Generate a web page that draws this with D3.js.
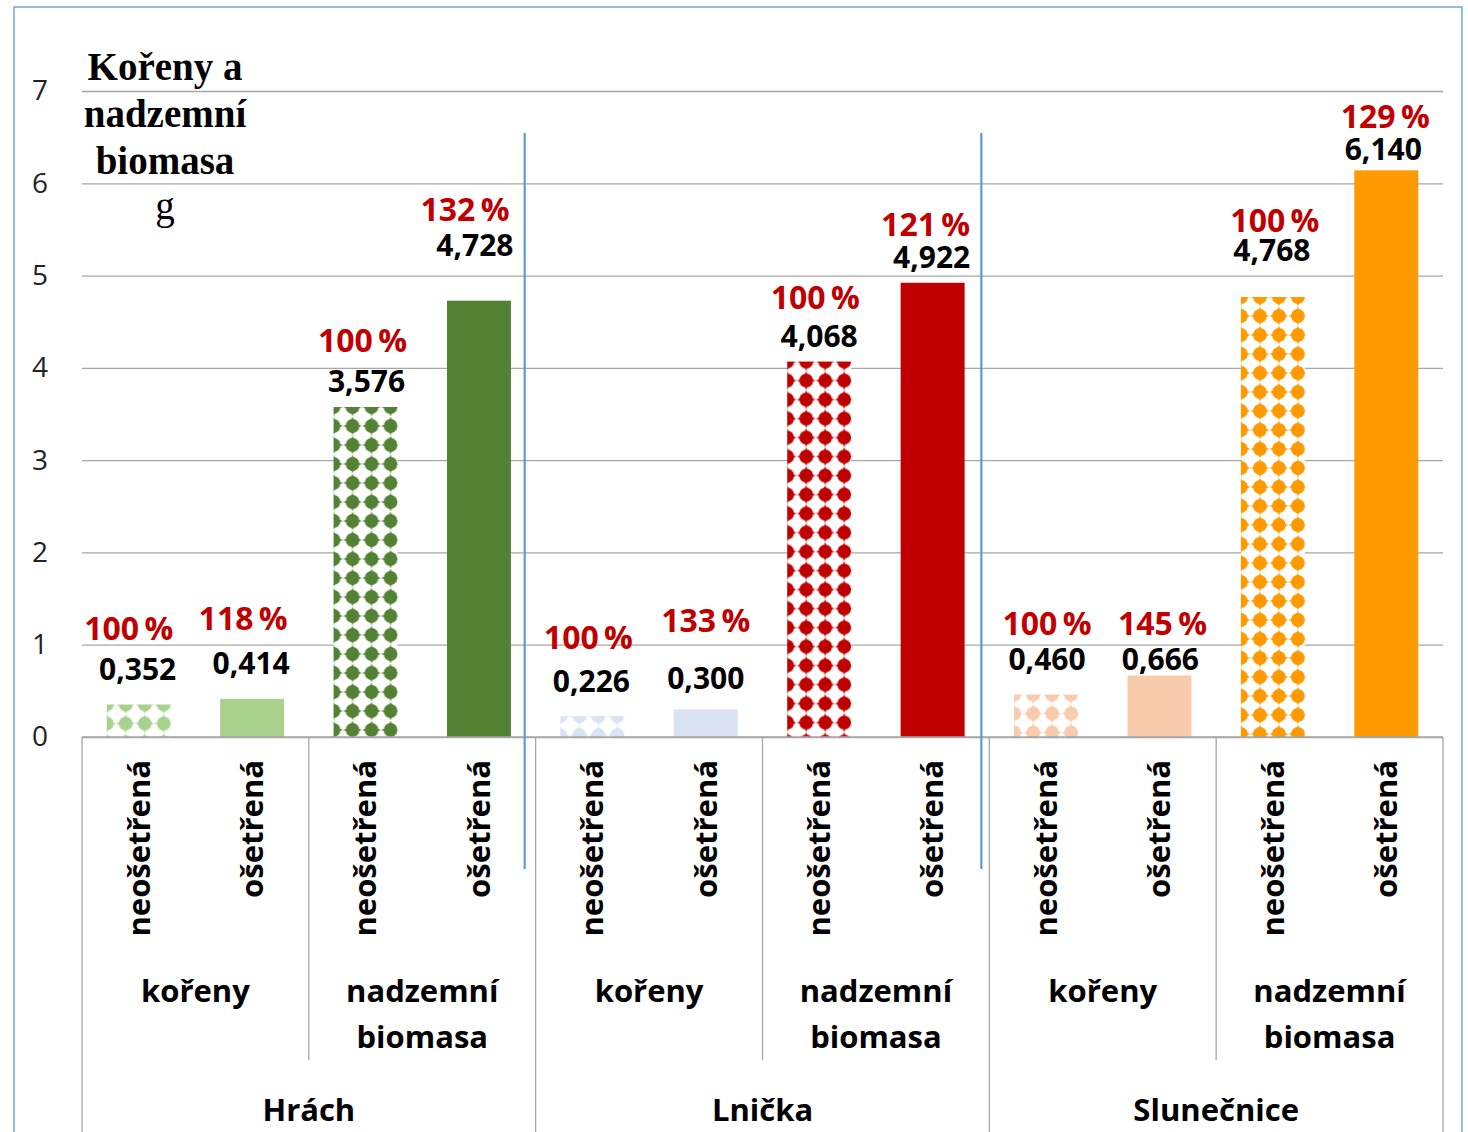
<!DOCTYPE html>
<html><head><meta charset="utf-8">
<script src="https://cdn.jsdelivr.net/npm/d3@7"></script>
<style>
html,body{margin:0;padding:0;background:#fff;}
svg{display:block;}
</style></head>
<body>
<svg id="chart" width="1468" height="1132"></svg>
<script>
// ---- data ----
const species = ["Hrách", "Lnička", "Slunečnice"];
const parts = ["kořeny", "nadzemní biomasa"];
const treatments = ["neošetřená", "ošetřená"];
const values = [0.352, 0.414, 3.576, 4.728, 0.226, 0.300, 4.068, 4.922, 0.460, 0.666, 4.768, 6.140];
const percents = [100, 118, 100, 132, 100, 133, 100, 121, 100, 145, 100, 129];
const yTicks = [0, 1, 2, 3, 4, 5, 6, 7];
const titleLines = ["Kořeny a", "nadzemní", "biomasa"];
const unitLabel = "g";

// ---- style / layout ----
const barColors = ["#A9D18E", "#A9D18E", "#548235", "#548235",
                   "#DAE3F3", "#DAE3F3", "#C00000", "#C00000",
                   "#F8CBAD", "#F8CBAD", "#FF9900", "#FF9900"];
const patterned = [true, false, true, false, true, false, true, false, true, false, true, false];
// manual label placement (px) as in the original
const valueGap = [35, 35, 25, 55, 35, 31, 25, 25, 35, 16, 46, 21];
const pctGap = [41, 45, 41, 36, 43, 58, 39, 33, 36, 36, 30, 33];
const pctDx = [-10, -9, -3, -14, -4, 0, -4, -7, 1, 3, 2, -1];
const valueDx = [-1, -1, 1, -4, -1, 0, 0, -1, 1, 1, -1, -3];
const separatorDx = [-11, -8];

(function () {
const W = 1468, H = 1132;
const mLeft = 82, mRight = 1443, mTop = 91, mBottom = 737;
const svg = d3.select("#chart");
const gridColor = "#A6A6A6";
const sans = "'Open Sans', 'Noto Sans', sans-serif";

// outer frame
svg.append("rect").attr("x", 14).attr("y", 7).attr("width", 1448).attr("height", 1140)
  .attr("fill", "none").attr("stroke", "#6FA8DC").attr("stroke-width", 1.5);

const items = values.map((v, i) => ({
  i, v, p: percents[i],
  sp: species[Math.floor(i / 4)],
  part: parts[Math.floor(i / 2) % 2],
  tr: treatments[i % 2]
}));

const x = d3.scaleBand().domain(d3.range(values.length)).range([mLeft, mRight])
  .paddingInner(0.436).paddingOuter(0.218);
const y = d3.scaleLinear().domain([0, 7]).range([mBottom, mTop]);
const step = x.step();

// gridlines + y labels
const yAxis = d3.axisLeft(y).tickValues(yTicks).tickSize(-(mRight - mLeft)).tickPadding(34).tickFormat(d3.format("d"));
const ga = svg.append("g").attr("transform", `translate(${mLeft},0)`).call(yAxis);
ga.select(".domain").remove();
ga.selectAll(".tick line").attr("stroke", gridColor).attr("stroke-width", 1.3);
ga.selectAll(".tick text").attr("font-family", sans).attr("font-size", 28).attr("fill", "#222");

// patterns: coloured four-pointed blobs on white
const defs = svg.append("defs");
const T = 19, R = 6.9, P = 9.4, Wd = 2.6;
const corners = [[0, 0], [T, 0], [0, T], [T, T]];
items.forEach(d => {
  if (!patterned[d.i]) return;
  const pat = defs.append("pattern").attr("id", "pat" + d.i)
    .attr("patternUnits", "userSpaceOnUse").attr("width", T).attr("height", T)
    .attr("patternTransform", `translate(${x(d.i)},${y(d.v)})`);
  pat.append("rect").attr("width", T).attr("height", T).attr("fill", "#fff");
  corners.forEach(([cx, cy]) => {
    pat.append("circle").attr("cx", cx).attr("cy", cy).attr("r", R).attr("fill", barColors[d.i]);
    pat.append("path")
      .attr("d", `M${cx - P},${cy}L${cx - Wd},${cy - Wd}L${cx},${cy - P}L${cx + Wd},${cy - Wd}` +
                 `L${cx + P},${cy}L${cx + Wd},${cy + Wd}L${cx},${cy + P}L${cx - Wd},${cy + Wd}Z`)
      .attr("fill", barColors[d.i]);
  });
});

// bars
svg.append("g").selectAll("rect").data(items).join("rect")
  .attr("x", d => x(d.i)).attr("width", x.bandwidth())
  .attr("y", d => y(d.v)).attr("height", d => y(0) - y(d.v))
  .attr("fill", d => patterned[d.i] ? `url(#pat${d.i})` : barColors[d.i]);

// x axis baseline and separators
const ax = svg.append("g").attr("stroke", gridColor).attr("stroke-width", 1.3);
ax.append("line").attr("x1", mLeft).attr("x2", mRight).attr("y1", mBottom).attr("y2", mBottom);
for (let k = 0; k <= values.length; k += 2) {
  const xx = mLeft + k * step;
  const full = (k % 4 === 0);
  ax.append("line").attr("x1", xx).attr("x2", xx).attr("y1", mBottom).attr("y2", full ? H + 10 : 1060);
}

// value labels
const fmt = v => d3.format(".3f")(v).replace(".", ",");
svg.append("g").selectAll("text").data(items).join("text")
  .attr("x", d => x(d.i) + x.bandwidth() / 2 + valueDx[d.i])
  .attr("y", d => y(d.v) - valueGap[d.i])
  .attr("dy", "0.35em").attr("text-anchor", "middle")
  .attr("font-family", sans).attr("font-weight", 700).attr("font-size", 30).attr("fill", "#000")
  .text(d => fmt(d.v));
svg.append("g").selectAll("text").data(items).join("text")
  .attr("x", d => x(d.i) + x.bandwidth() / 2 + pctDx[d.i])
  .attr("y", d => y(d.v) - valueGap[d.i] - pctGap[d.i])
  .attr("dy", "0.35em").attr("text-anchor", "middle")
  .attr("font-family", sans).attr("font-weight", 700).attr("font-size", 32).attr("fill", "#C00000")
  .text(d => `${d.p}\u2009%`);

// rotated treatment labels
svg.append("g").selectAll("text").data(items).join("text")
  .attr("transform", d => `translate(${x(d.i) + x.bandwidth() / 2},760) rotate(-90)`)
  .attr("text-anchor", "end").attr("dy", "0.35em")
  .attr("font-family", sans).attr("font-weight", 700).attr("font-size", 31).attr("fill", "#000")
  .text(d => d.tr);

// part labels
const partGroups = d3.range(species.length * parts.length).map(j => ({ j, name: parts[j % 2] }));
const pg = svg.append("g").attr("font-family", sans).attr("font-weight", 700).attr("font-size", 31)
  .attr("fill", "#000").attr("text-anchor", "middle");
partGroups.forEach(g => {
  const cx = mLeft + (g.j * 2 + 1) * step;
  const words = g.name.split(" ");
  const t = pg.append("text").attr("x", cx).attr("y", 991);
  words.forEach((w, k) => t.append("tspan").attr("x", cx).attr("dy", k === 0 ? "0.35em" : 46).text(w));
});

// species labels
svg.append("g").selectAll("text").data(species).join("text")
  .attr("x", (d, k) => mLeft + (k * 4 + 2) * step).attr("y", 1110).attr("dy", "0.35em")
  .attr("text-anchor", "middle").attr("font-family", sans).attr("font-weight", 700).attr("font-size", 31)
  .attr("fill", "#000").text(d => d);

// blue separators
svg.append("g").selectAll("line").data([1, 2]).join("line")
  .attr("x1", k => mLeft + k * 4 * step + separatorDx[k - 1]).attr("x2", k => mLeft + k * 4 * step + separatorDx[k - 1])
  .attr("y1", 133).attr("y2", 869).attr("stroke", "#5B9BD5").attr("stroke-width", 2.2);

// title
const tg = svg.append("g").attr("font-family", "'Liberation Serif', 'Times New Roman', serif")
  .attr("font-size", 39).attr("fill", "#000").attr("text-anchor", "middle");
titleLines.forEach((t, k) => tg.append("text").attr("x", 165).attr("y", 80 + k * 47).attr("font-weight", "bold").text(t));
tg.append("text").attr("x", 165).attr("y", 219).text(unitLabel);
})();
</script>
</body></html>
